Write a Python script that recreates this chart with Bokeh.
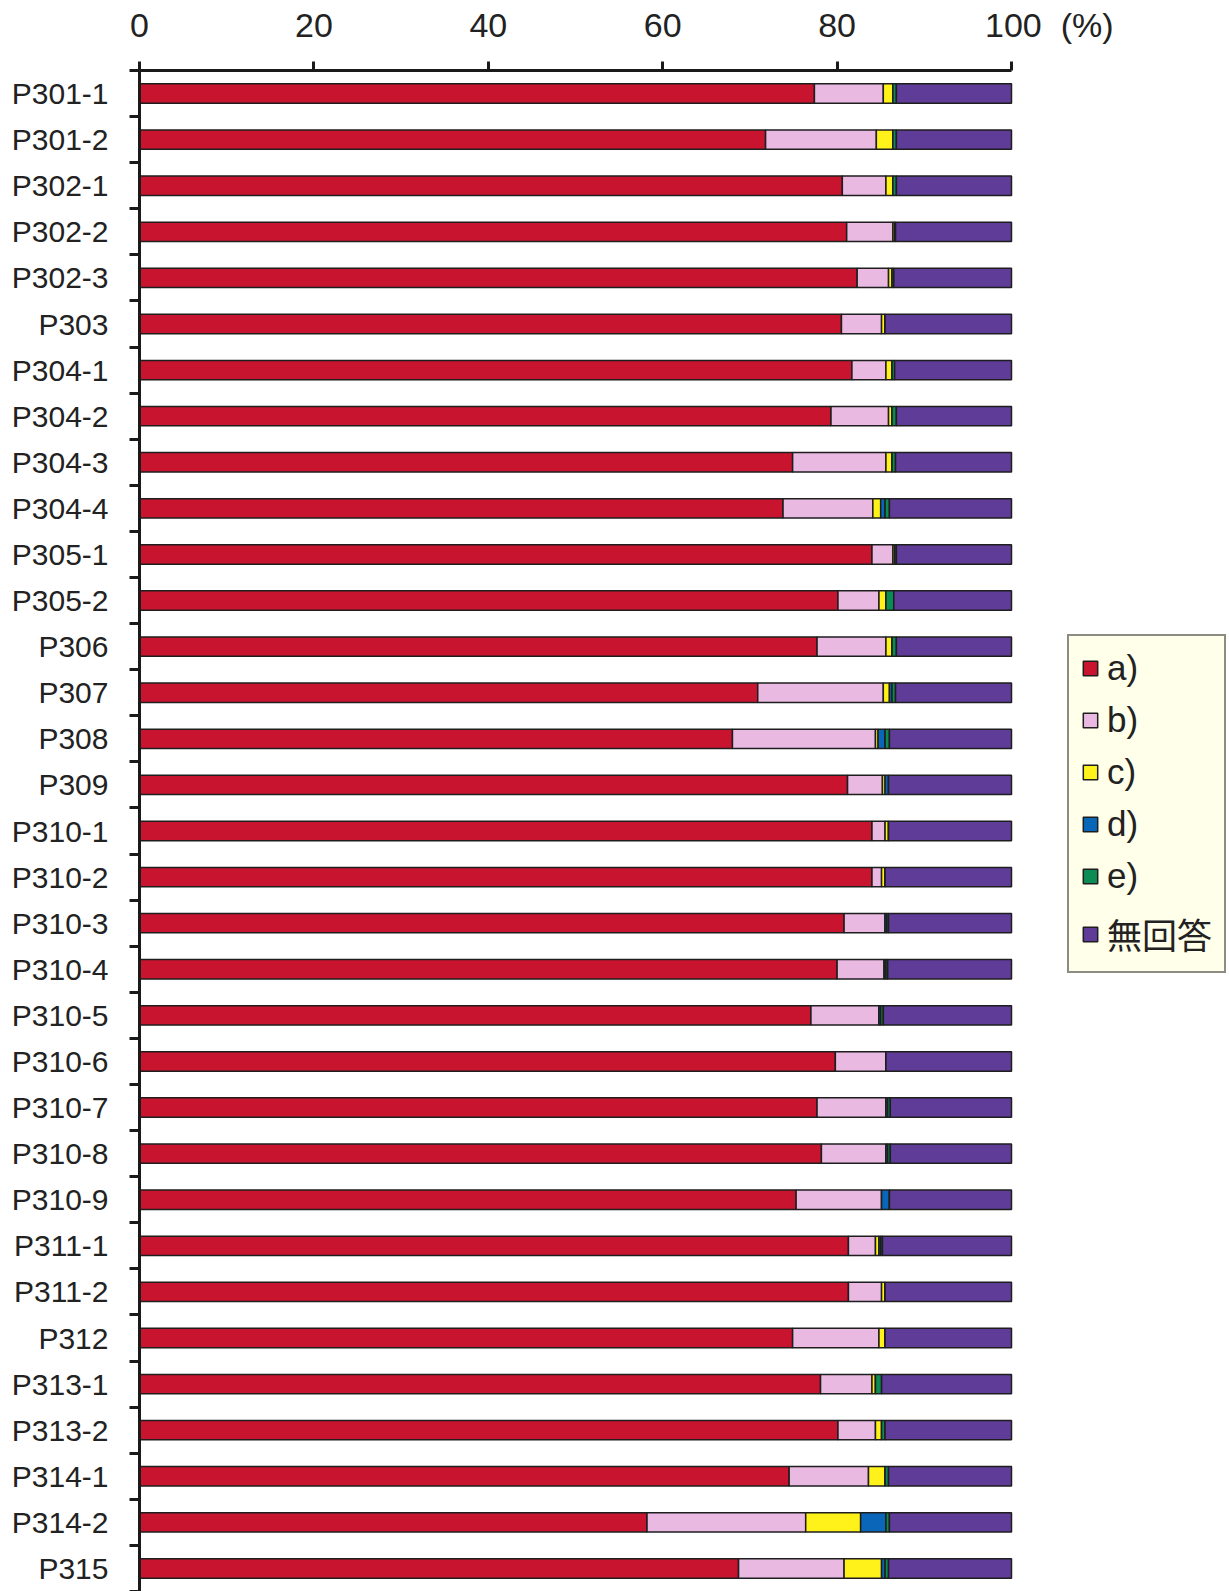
from bokeh.plotting import figure
from bokeh.models import (ColumnDataSource, FixedTicker, Range1d, Legend,
                          LegendItem)
from bokeh.embed import file_html
from bokeh.resources import INLINE

# Survey items (top to bottom)
categories = ["P301-1", "P301-2", "P302-1", "P302-2", "P302-3", "P303",
              "P304-1", "P304-2", "P304-3", "P304-4", "P305-1", "P305-2",
              "P306", "P307", "P308", "P309", "P310-1", "P310-2", "P310-3",
              "P310-4", "P310-5", "P310-6", "P310-7", "P310-8", "P310-9",
              "P311-1", "P311-2", "P312", "P313-1", "P313-2", "P314-1",
              "P314-2", "P315"]

# Share of answers per item (%)
ans_a = [77.4, 71.8, 80.6, 81.1, 82.3, 80.5, 81.7, 79.3, 74.9, 73.8, 84.0,
         80.1, 77.7, 70.9, 68.0, 81.2, 84.0, 84.0, 80.8, 80.0, 77.0, 79.8,
         77.7, 78.2, 75.3, 81.3, 81.3, 74.9, 78.1, 80.1, 74.5, 58.2, 68.7]
ans_b = [7.9, 12.7, 5.0, 5.3, 3.6, 4.6, 3.9, 6.6, 10.7, 10.3, 2.4, 4.7, 7.9,
         14.4, 16.4, 4.0, 1.5, 1.1, 4.7, 5.4, 7.8, 5.8, 7.9, 7.4, 9.8, 3.1,
         3.8, 9.9, 5.9, 4.3, 9.1, 18.2, 12.1]
ans_c = [1.1, 1.9, 0.8, 0.2, 0.4, 0.4, 0.7, 0.4, 0.7, 0.9, 0.2, 0.8, 0.7,
         0.7, 0.3, 0.3, 0.4, 0.4, 0.0, 0.0, 0.0, 0.0, 0.0, 0.0, 0.0, 0.4,
         0.4, 0.7, 0.4, 0.7, 1.9, 6.3, 4.3]
ans_d = [0.0, 0.0, 0.0, 0.0, 0.0, 0.0, 0.0, 0.0, 0.0, 0.5, 0.0, 0.0, 0.0,
         0.3, 0.8, 0.4, 0.0, 0.0, 0.2, 0.2, 0.2, 0.0, 0.2, 0.2, 0.9, 0.2,
         0.0, 0.0, 0.0, 0.0, 0.0, 2.9, 0.4]
ans_e = [0.4, 0.4, 0.4, 0.1, 0.2, 0.0, 0.3, 0.5, 0.4, 0.5, 0.2, 0.9, 0.5,
         0.4, 0.5, 0.0, 0.0, 0.0, 0.2, 0.2, 0.3, 0.0, 0.3, 0.3, 0.0, 0.2,
         0.0, 0.0, 0.7, 0.4, 0.4, 0.4, 0.4]
ans_none = [13.2, 13.2, 13.2, 13.3, 13.5, 14.5, 13.4, 13.2, 13.3, 14.0, 13.2,
            13.5, 13.2, 13.3, 14.0, 14.1, 14.1, 14.5, 14.1, 14.2, 14.7, 14.4,
            13.9, 13.9, 14.0, 14.8, 14.5, 14.5, 14.9, 14.5, 14.1, 14.0, 14.1]

series = ["a", "b", "c", "d", "e", "none"]
labels = ["a)", "b)", "c)", "d)", "e)", "無回答"]
colors = ["#C8142E", "#E9B9E2", "#FFF21A", "#0A66B8", "#0C8C55", "#5E3C98"]

x_ticks = [0, 20, 40, 60, 80, 100]
unit = "(%)"

rows = list(range(len(categories)))
source = ColumnDataSource(dict(row=rows, a=ans_a, b=ans_b, c=ans_c,
                               d=ans_d, e=ans_e, none=ans_none))

FONT = "Liberation Sans, Arial, Noto Sans CJK JP, sans-serif"
NBSP = "\u00A0"

# the frame runs to the right edge so the legend can sit beside the bars;
# the axis itself is bounded to 0-100
p = figure(width=1229, height=1591, output_backend="svg",
           toolbar_location=None, x_axis_location="above",
           x_range=Range1d(0, 125),
           y_range=Range1d(len(categories) - 0.5, -0.5),
           min_border_left=139, min_border_right=0,
           min_border_top=70, min_border_bottom=0)
p.outline_line_color = None
p.xgrid.grid_line_color = None
p.ygrid.grid_line_color = None
p.background_fill_color = "white"

renderers = p.hbar_stack(series, y="row", height=0.42, color=colors,
                         line_color="#1e1e1e", line_width=1.5, source=source)

# top percentage axis; the unit follows the last tick label, padded on the
# left so that the number itself stays centred on its tick
xa = p.xaxis[0]
xa.bounds = (x_ticks[0], x_ticks[-1])
xa.ticker = FixedTicker(ticks=x_ticks)
xa.major_label_overrides = {
    x_ticks[-1]: NBSP * 8 + str(x_ticks[-1]) + NBSP * 2 + unit}
xa.axis_line_width = 3
xa.axis_line_color = "#1a1a1a"
xa.major_tick_line_width = 3
xa.major_tick_line_color = "#1a1a1a"
xa.major_tick_out = 9
xa.major_tick_in = 0
xa.minor_tick_line_color = None
xa.major_label_text_font = FONT
xa.major_label_text_font_size = "34px"
xa.major_label_text_color = "#222222"
xa.major_label_standoff = 18

# item axis: names at bar centres, tick marks between bars
ya = p.yaxis[0]
ya.ticker = FixedTicker(ticks=rows,
                        minor_ticks=[r - 0.5 for r in rows] + [rows[-1] + 0.5])
ya.major_label_overrides = {r: name for r, name in zip(rows, categories)}
ya.axis_line_width = 3
ya.axis_line_color = "#1a1a1a"
ya.major_tick_line_color = None
ya.major_tick_out = 0
ya.major_tick_in = 0
ya.minor_tick_line_width = 3
ya.minor_tick_line_color = "#1a1a1a"
ya.minor_tick_out = 10
ya.minor_tick_in = 0
ya.major_label_text_font = FONT
ya.major_label_text_font_size = "30px"
ya.major_label_text_color = "#222222"
ya.major_label_standoff = 21

legend = Legend(items=[LegendItem(label=lab, renderers=[r])
                       for lab, r in zip(labels, renderers)],
                location=(928, 618))
legend.background_fill_color = "#FFFFEA"
legend.background_fill_alpha = 1.0
legend.border_line_color = "#1a1a1a"
legend.border_line_width = 2.5
legend.label_text_font = FONT
legend.label_text_font_size = "35px"
legend.label_text_color = "#222222"
legend.glyph_width = 18
legend.glyph_height = 18
legend.label_height = 38
legend.label_standoff = 8
legend.spacing = 12
legend.padding = 12
legend.margin = 0
p.add_layout(legend, "center")

open("out.html", "w").write(file_html(p, INLINE))
